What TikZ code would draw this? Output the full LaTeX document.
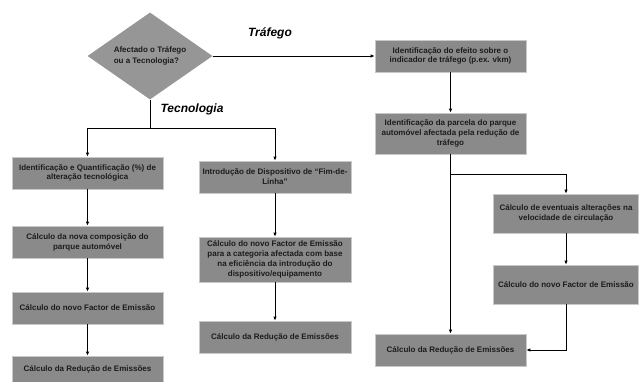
\documentclass[tikz,border=0pt]{standalone}
\usepackage{fontspec}
\setmainfont{Liberation Sans}
\usepackage{tikz}
\usetikzlibrary{arrows.meta, shapes.geometric, positioning, calc}
\definecolor{boxgray}{RGB}{138, 138, 138}
\definecolor{diagray}{RGB}{150, 150, 150}
\definecolor{edgegray}{RGB}{200, 200, 200}
\definecolor{txtdark}{RGB}{28, 28, 28}

\begin{document}
\begin{tikzpicture}[x=1pt, y=-1pt,
    stepbox/.style={rectangle, fill=boxgray, draw=edgegray, line width=0.6pt,
      text=txtdark, font=\fontsize{8}{9.8}\selectfont\bfseries, align=center,
      inner sep=1pt, minimum height=32pt},
    choice/.style={diamond, fill=diagray, draw=none, aspect=1.44, inner sep=0pt,
      minimum width=125pt, minimum height=87pt, text=txtdark,
      font=\fontsize{8}{11}\selectfont\bfseries, align=left},
    branch/.style={font=\fontsize{12}{14}\selectfont\bfseries\itshape},
    flow/.style={line width=0.9pt, -{Latex[length=4pt, width=3.4pt]}},
    wire/.style={line width=0.9pt}]
    \useasboundingbox (0,0) rectangle (640,381);

    % decision
    \node[choice] (dec) at (150,56) {Afectado o Tr\'afego\\ou a Tecnologia?};
    \node[branch] (lbltraf) at (270,33) {Tr\'afego};
    \node[branch] (lbltec) at (192,109) {Tecnologia};

    % tecnologia, left column
    \node[stepbox, minimum width=151pt] (l1) at (87.5,173) {Identifica\c{c}\~ao e Quantifica\c{c}\~ao (\%) de\\altera\c{c}\~ao tecnol\'ogica};
    \node[stepbox, minimum width=151pt] (l2) at (87.5,242) {C\'alculo da nova composi\c{c}\~ao do\\parque autom\'ovel};
    \node[stepbox, minimum width=151pt] (l3) at (87.5,308) {C\'alculo do novo Factor de Emiss\~ao};
    \node[stepbox, minimum width=151pt, minimum height=26pt] (l4) at (87.5,369) {C\'alculo da Redu\c{c}\~ao de Emiss\~oes};

    % tecnologia, middle column
    \node[stepbox, minimum width=152pt] (m1) at (275,177) {Introdu\c{c}\~ao de Dispositivo de ``Fim-de-\\Linha''};
    \node[stepbox, minimum width=152pt, minimum height=45pt] (m2) at (275,259.5) {C\'alculo do novo Factor de Emiss\~ao\\para a categoria afectada com base\\na efici\^encia da introdu\c{c}\~ao do\\dispositivo/equipamento};
    \node[stepbox, minimum width=152pt] (m3) at (275,337) {C\'alculo da Redu\c{c}\~ao de Emiss\~oes};

    % trafego, right columns
    \node[stepbox, minimum width=151pt] (t1) at (450.5,56) {Identifica\c{c}\~ao do efeito sobre o\\indicador de tr\'afego (p.ex. vkm)};
    \node[stepbox, minimum width=151pt, minimum height=41pt] (t2) at (450.5,133.5) {Identifica\c{c}\~ao da parcela do parque\\autom\'ovel afectada pela redu\c{c}\~ao de\\tr\'afego};
    \node[stepbox, minimum width=145pt, minimum height=39pt] (t3) at (566,213.5) {C\'alculo de eventuais altera\c{c}\~oes na\\velocidade de circula\c{c}\~ao};
    \node[stepbox, minimum width=145pt, minimum height=39pt] (t4) at (566,284.5) {C\'alculo do novo Factor de Emiss\~ao};
    \node[stepbox, minimum width=151pt] (t5) at (450.5,350) {C\'alculo da Redu\c{c}\~ao de Emiss\~oes};

    \coordinate (split) at (150,128);
    \coordinate (tsplit) at (450.5,174);

    % connectors
    \draw[flow] (dec.east) -- (t1.west);
    \draw[wire] (dec.south) -- (split);
    \draw[flow] (split) -| (l1.north);
    \draw[flow] (split) -| (m1.north);
    \draw[flow] (l1) -- (l2);
    \draw[flow] (l2) -- (l3);
    \draw[flow] (l3) -- (l4);
    \draw[flow] (m1) -- (m2);
    \draw[flow] (m2) -- (m3);
    \draw[flow] (t1) -- (t2);
    \draw[flow] (t2) -- (t5);
    \draw[flow] (tsplit) -| (t3.north);
    \draw[flow] (t3) -- (t4);
    \draw[flow] (t4.south) |- (t5.east);
\end{tikzpicture}
\end{document}
